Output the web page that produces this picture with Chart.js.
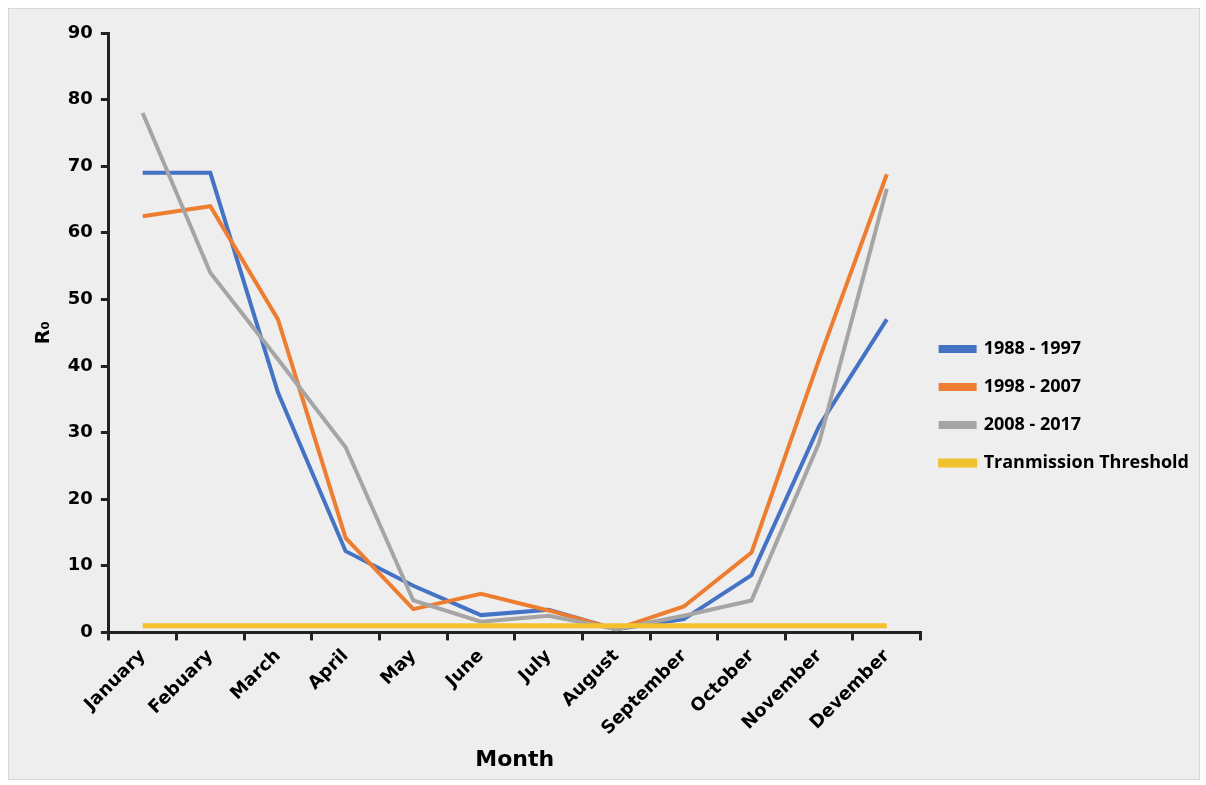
<!DOCTYPE html>
<html>
<head>
<meta charset="utf-8">
<script src="https://cdn.jsdelivr.net/npm/chart.js@4.4.1/dist/chart.umd.min.js"></script>
<style>
  html, body { margin: 0; padding: 0; background: #ffffff; }
  #wrap {
    position: absolute; left: 8px; top: 8px; width: 1190px; height: 770px;
    background: #eeeeee; border: 1px solid #d6d6d6;
  }
</style>
</head>
<body>
<div id="wrap"><canvas id="lineChart"></canvas></div>
<script>
const months = ["January", "Febuary", "March", "April", "May", "June", "July",
  "August", "September", "October", "November", "Devember"];
const period1 = [69, 69, 36, 12.2, 7, 2.6, 3.4, 0.5, 2, 8.6, 31, 47];
const period2 = [62.5, 64, 47, 14.2, 3.5, 5.8, 3.3, 0.5, 3.9, 12, 41, 68.8];
const period3 = [78, 54, 41, 27.8, 4.8, 1.6, 2.5, 0.5, 2.5, 4.8, 28.5, 66.6];
const threshold = [1, 1, 1, 1, 1, 1, 1, 1, 1, 1, 1, 1];
const yTicks = [0, 10, 20, 30, 40, 50, 60, 70, 80, 90];

const tickFont = { family: "DejaVu Sans", size: 18, weight: "bold" };

const ctx = document.getElementById("lineChart");
const wrap = document.getElementById("wrap");
ctx.width = wrap.clientWidth;
ctx.height = wrap.clientHeight;

new Chart(ctx, {
  type: "line",
  data: {
    labels: months,
    datasets: [
      { label: "1988 - 1997", data: period1, borderColor: "#4472C4", backgroundColor: "#4472C4", borderWidth: 4, order: 4 },
      { label: "1998 - 2007", data: period2, borderColor: "#ED7D31", backgroundColor: "#ED7D31", borderWidth: 4, order: 3 },
      { label: "2008 - 2017", data: period3, borderColor: "#A5A5A5", backgroundColor: "#A5A5A5", borderWidth: 4, order: 2 },
      { label: "Tranmission Threshold", data: threshold, borderColor: "#F2C12E", backgroundColor: "#F2C12E", borderWidth: 5, order: 1 },
    ],
  },
  options: {
    responsive: false,
    animation: false,
    elements: { point: { radius: 0 }, line: { tension: 0 } },
    layout: { padding: { top: 24, right: 0, bottom: 0, left: 20 } },
    plugins: {
      tooltip: { enabled: false },
      legend: {
        position: "right",
        labels: {
          sort: (a, b) => a.datasetIndex - b.datasetIndex,
          color: "#000",
          font: { family: "Open Sans", size: 18, weight: "bold" },
          boxWidth: 34,
          boxHeight: 4,
          padding: 20,
        },
      },
    },
    scales: {
      x: {
        offset: true,
        grid: { offset: true, drawOnChartArea: false, drawTicks: true, tickLength: 8, color: "#222", lineWidth: 3 },
        border: { display: true, color: "#222", width: 3 },
        ticks: { color: "#000", font: tickFont, minRotation: 45, maxRotation: 45, padding: 5 },
        title: { display: true, text: "Month", color: "#000", font: { family: "DejaVu Sans", size: 22, weight: "bold" }, padding: { top: 2, bottom: 6 } },
      },
      y: {
        min: 0,
        max: 90,
        afterBuildTicks: (axis) => { axis.ticks = yTicks.map((v) => ({ value: v })); },
        grid: { drawOnChartArea: false, drawTicks: true, tickLength: 8, color: "#222", lineWidth: 3 },
        border: { display: true, color: "#222", width: 3 },
        ticks: { color: "#000", font: tickFont, padding: 8 },
        title: { display: true, text: "R₀", color: "#000", font: { family: "DejaVu Sans", size: 19, weight: "bold" }, padding: { bottom: 4 } },
      },
    },
  },
});
</script>
</body>
</html>
